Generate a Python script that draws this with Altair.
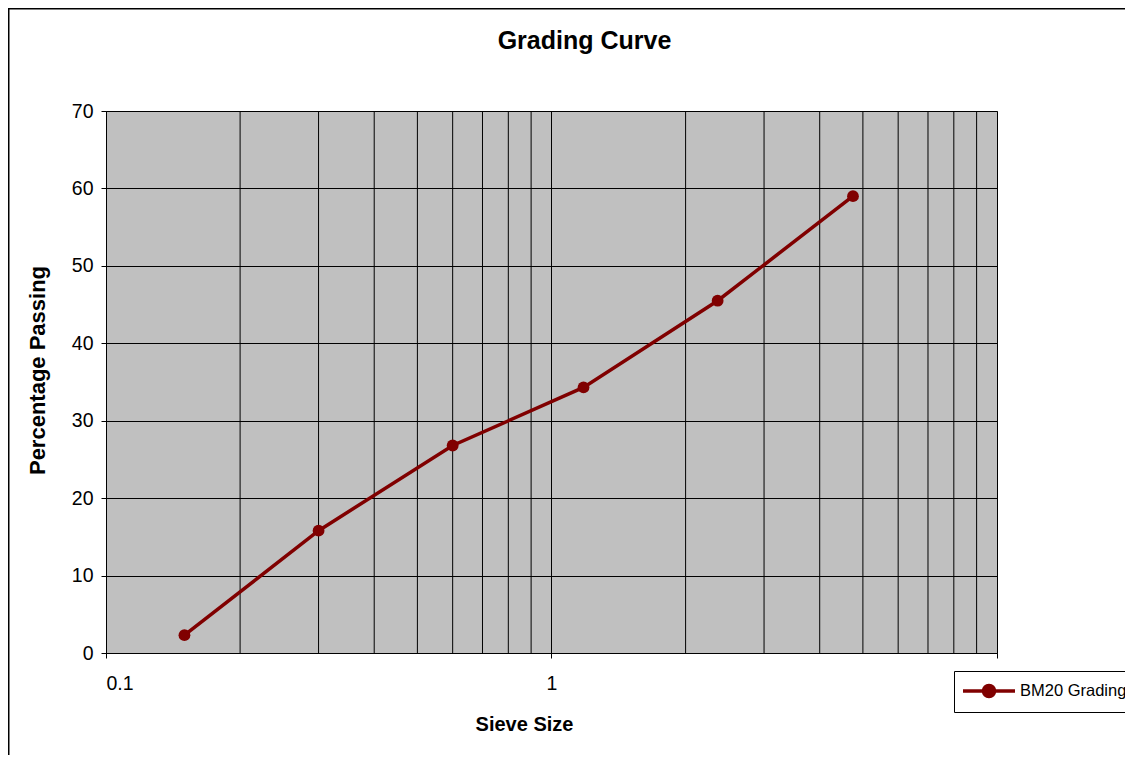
import altair as alt
import pandas as pd

# ---- data ----
sieve_size = [0.15, 0.3, 0.6, 1.18, 2.36, 4.75]
percent_passing = [2.3, 15.8, 26.8, 34.3, 45.5, 59.0]
series_name = "BM20 Grading"
minor_grid = [0.2, 0.3, 0.4, 0.5, 0.6, 0.7, 0.8, 0.9, 2, 3, 4, 5, 6, 7, 8, 9]
x_ticks = [0.1, 1, 10]
y_ticks = [0, 10, 20, 30, 40, 50, 60, 70]

df = pd.DataFrame({"sieve": sieve_size, "passing": percent_passing,
                   "series": [series_name] * len(sieve_size)})
grid_df = pd.DataFrame({"g": minor_grid})

FONT = "Liberation Sans"
W, H = 891, 542
PL, PT, PR, PB = 98, 103, 128, 102
RED = "#800000"

x_scale = alt.Scale(type="log", domain=[0.1, 10], nice=False)
y_scale = alt.Scale(domain=[0, 70], nice=False)

x_axis = alt.Axis(values=x_ticks, labelExpr="datum.value > 5 ? '' : datum.label",
                  format="~g", tickSize=5, labelPadding=16, labelFontSize=19.5,
                  title="Sieve Size", titleFontSize=20, titleFontWeight="bold",
                  titleX=418, titleY=61, titleBaseline="top", titleAnchor="start",
                  titleAlign="center")
y_axis = alt.Axis(values=y_ticks, tickSize=5, labelPadding=8, labelFontSize=19.5,
                  title="Percentage Passing", titleFontSize=22, titleFontWeight="bold",
                  titleX=-62, titleY=259, titleBaseline="alphabetic", titleAlign="center",
                  titleAngle=-90)

def xenc(field):
    return alt.X(field, type="quantitative", scale=x_scale, axis=x_axis, title="Sieve Size")

def yenc(field):
    return alt.Y(field, type="quantitative", scale=y_scale, axis=y_axis, title="Percentage Passing")

border = alt.Chart(alt.Data(values=[{"a": 1}])).mark_rect(
    fillOpacity=0, stroke="black", strokeWidth=1.5
).encode(
    x=alt.value(-PL + 0.75), x2=alt.value(W + PR + 50),
    y=alt.value(-PT + 0.75), y2=alt.value(H + PB + 50)
)

minor = alt.Chart(grid_df).mark_rule(color="black", strokeWidth=1).encode(
    x=xenc("g")
)

legend_symbol = "M-2.6,0H2.6M-0.55,0A0.55,0.55,0,1,0,0.55,0A0.55,0.55,0,1,0,-0.55,0Z"

line = alt.Chart(df).mark_line(strokeWidth=3.5).encode(
    x=xenc("sieve"),
    y=yenc("passing"),
    color=alt.Color("series:N",
                    scale=alt.Scale(domain=[series_name], range=[RED]),
                    legend=alt.Legend(title=None, orient="none", legendX=848, legendY=560,
                                      symbolType=legend_symbol, symbolSize=400,
                                      symbolStrokeWidth=3.5, symbolFillColor=RED,
                                      symbolOffset=15, labelOffset=19,
                                      labelFontSize=16.5, labelFont=FONT, labelColor="black",
                                      padding=8, strokeColor="black", fillColor="white"))
)

points = alt.Chart(df).mark_point(filled=True, size=140, color=RED, opacity=1).encode(
    x=xenc("sieve"),
    y=yenc("passing")
)

chart = alt.layer(border, minor, line, points).properties(
    width=W, height=H,
    padding={"left": PL, "top": PT, "right": PR, "bottom": PB},
    autosize=alt.AutoSizeParams(type="none"),
    background="white",
    title=alt.Title("Grading Curve", fontSize=25, fontWeight="bold", font=FONT,
                    color="black", anchor="middle", dx=33, offset=-46)
).configure_view(
    fill="#C0C0C0", stroke="#808080", strokeWidth=1
).configure_axis(
    domainColor="black", domainWidth=1, tickColor="black", tickWidth=1,
    gridColor="black", gridWidth=1, gridOpacity=1, grid=True,
    labelColor="black", labelFont=FONT, titleFont=FONT, titleColor="black"
)

chart.save("out.html", embed_options={"renderer": "svg", "actions": False})
